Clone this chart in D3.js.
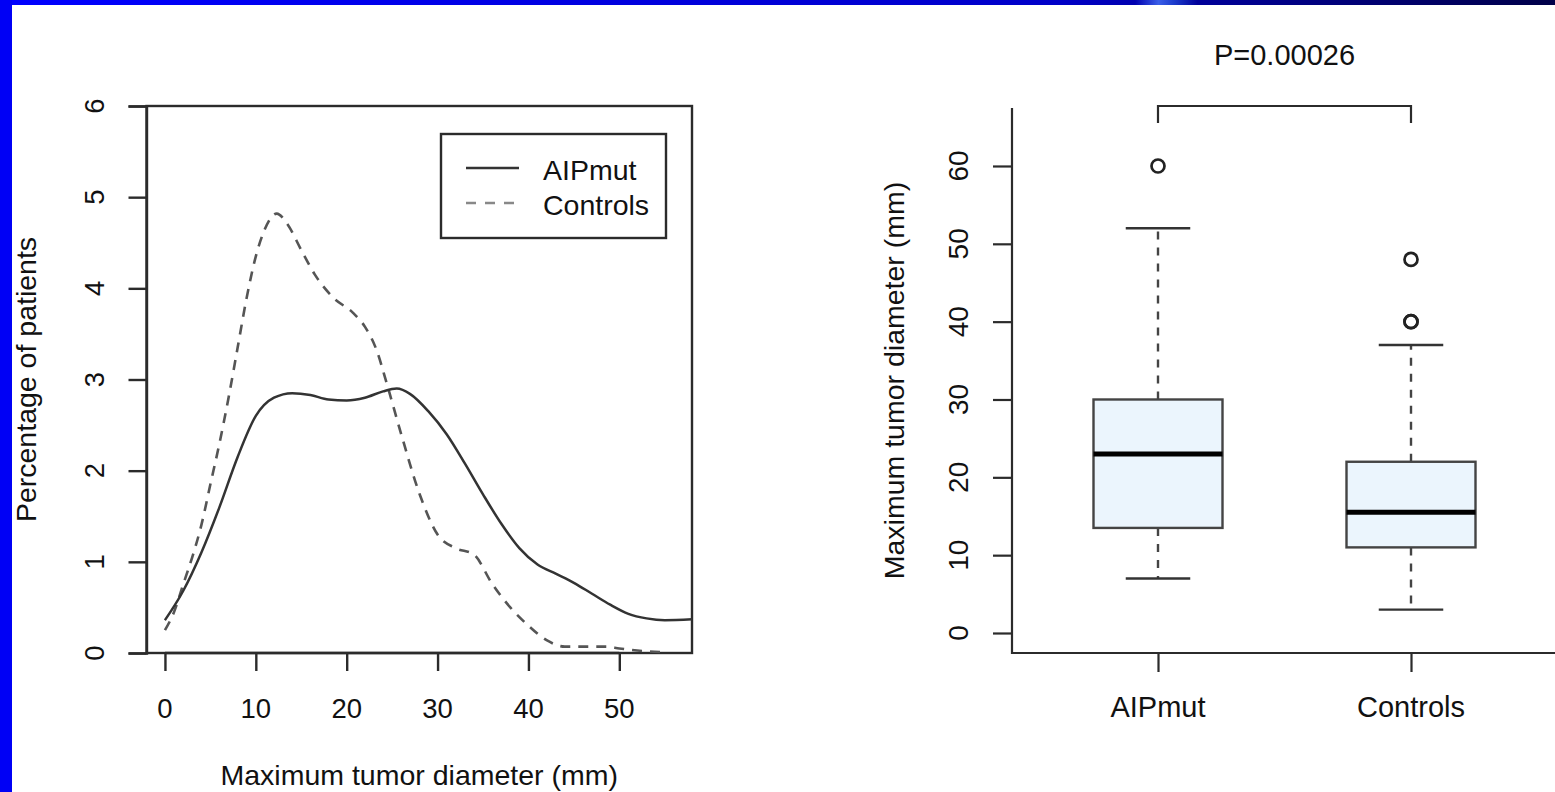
<!DOCTYPE html>
<html>
<head>
<meta charset="utf-8">
<script src="https://cdn.jsdelivr.net/npm/d3@7"></script>
<style>
  html, body { margin: 0; padding: 0; background: #fff; }
  svg { display: block; }
  text { font-family: "Liberation Sans", Arial, Helvetica, sans-serif; fill: #111; }
</style>
</head>
<body>
<svg id="chart" width="1555" height="792"></svg>
<script>
// ---------- DATA ----------
// Density curves (x = tumor diameter in mm, y = percentage of patients)
const aipX = [0,2,4,6,8,10,12,14,16,18,20,22,24,25.5,27,29,31,33,35,37,39,41,43,45,47,49,51,53,55,58];
const aipY = [0.36,0.68,1.1,1.6,2.15,2.6,2.8,2.85,2.83,2.78,2.77,2.8,2.87,2.9,2.84,2.65,2.4,2.08,1.74,1.42,1.15,0.97,0.87,0.77,0.65,0.53,0.43,0.38,0.36,0.37];
const ctrlX = [0,1,2,3,4,5,6,7,8,9,10,11,12.3,13.5,15,16.5,18.5,20.7,22,23.3,24.4,26,28,30,32,34,36,38,40,42,44,46,48.6,50,52.8,55];
const ctrlY = [0.25,0.45,0.75,1.05,1.4,1.85,2.3,2.8,3.35,3.9,4.35,4.65,4.82,4.7,4.42,4.15,3.9,3.73,3.58,3.32,2.96,2.4,1.75,1.3,1.15,1.08,0.76,0.5,0.3,0.14,0.07,0.07,0.07,0.05,0.02,0.01];
const seriesNames = ["AIPmut", "Controls"];
const leftXTicks = [0,10,20,30,40,50];
const leftYTicks = [0,1,2,3,4,5,6];

// Boxplot summaries
const boxGroups = ["AIPmut", "Controls"];
const boxLowWhisker = [7, 3];
const boxQ1 = [13.5, 11];
const boxMedian = [23, 15.5];
const boxQ3 = [30, 22];
const boxHighWhisker = [52, 37];
const boxOutliers = [[60], [40, 40, 48]];
const rightYTicks = [0,10,20,30,40,50,60];
const pValueLabel = "P=0.00026";

// ---------- DRAW ----------
const svg = d3.select("#chart");
const ink = "#2b2b2b";

// slide frame
const defs = svg.append("defs");
const grad = defs.append("linearGradient").attr("id", "topbar").attr("x1", "0").attr("x2", "1");
[["0%", "#0000ff"], ["68%", "#0000c8"], ["73%", "#0000b0"], ["74.5%", "#3a5ee8"], ["75.5%", "#1c3ccc"], ["77%", "#00009a"], ["100%", "#000048"]]
  .forEach(([o, c]) => grad.append("stop").attr("offset", o).attr("stop-color", c));
svg.append("rect").attr("x", 0).attr("y", 0).attr("width", 1555).attr("height", 792).attr("fill", "#fff");
svg.append("rect").attr("x", 0).attr("y", 0).attr("width", 1555).attr("height", 5).attr("fill", "url(#topbar)");
svg.append("rect").attr("x", 0).attr("y", 0).attr("width", 12).attr("height", 792).attr("fill", "#0000f5");

// ===== LEFT: density plot =====
const xL = d3.scaleLinear().domain([-2.03, 58]).range([146.5, 692]);
const yL = d3.scaleLinear().domain([0, 6]).range([653, 106]);
const L = svg.append("g");

// box frame
L.append("rect").attr("x", xL.range()[0]).attr("y", yL.range()[1])
  .attr("width", xL.range()[1] - xL.range()[0]).attr("height", yL.range()[0] - yL.range()[1])
  .attr("fill", "none").attr("stroke", ink).attr("stroke-width", 2.4);

// axes
const axL = d3.axisLeft(yL).tickValues(leftYTicks).tickSize(18).tickPadding(0).tickFormat(() => "");
const gyL = L.append("g").attr("transform", `translate(${xL.range()[0]},0)`).call(axL);
gyL.select(".domain").attr("stroke", ink).attr("stroke-width", 2.4);
gyL.selectAll(".tick line").attr("stroke", ink).attr("stroke-width", 2.4);
L.selectAll(".ylabL").data(leftYTicks).join("text")
  .attr("transform", d => `translate(104,${yL(d)}) rotate(-90)`)
  .attr("text-anchor", "middle").attr("font-size", 27.5).text(d => d);

const axLB = d3.axisBottom(xL).tickValues(leftXTicks).tickSize(18).tickFormat(() => "");
const gxL = L.append("g").attr("transform", `translate(0,${yL.range()[0]})`).call(axLB);
gxL.select(".domain").attr("d", `M${xL(0)},0H${xL(50)}`).attr("stroke", ink).attr("stroke-width", 2.4);
gxL.selectAll(".tick line").attr("stroke", ink).attr("stroke-width", 2.4);
L.selectAll(".xlabL").data(leftXTicks).join("text")
  .attr("x", d => xL(d)).attr("y", 718).attr("text-anchor", "middle").attr("font-size", 27.5).text(d => d);

L.append("text").attr("x", (xL.range()[0] + xL.range()[1]) / 2).attr("y", 785)
  .attr("text-anchor", "middle").attr("font-size", 28.5).text("Maximum tumor diameter (mm)");
L.append("text").attr("transform", `translate(36,${(yL.range()[0] + yL.range()[1]) / 2}) rotate(-90)`)
  .attr("text-anchor", "middle").attr("font-size", 28.5).text("Percentage of patients");

// curves
const lineGen = d3.line().x(d => xL(d[0])).y(d => yL(d[1])).curve(d3.curveMonotoneX);
L.append("path").datum(d3.zip(ctrlX, ctrlY)).attr("d", lineGen)
  .attr("fill", "none").attr("stroke", "#555").attr("stroke-width", 2.6).attr("stroke-dasharray", "10,8");
L.append("path").datum(d3.zip(aipX, aipY)).attr("d", lineGen)
  .attr("fill", "none").attr("stroke", "#333").attr("stroke-width", 2.5);

// legend
const lg = L.append("g");
lg.append("rect").attr("x", 441).attr("y", 134).attr("width", 225).attr("height", 104)
  .attr("fill", "#fff").attr("stroke", ink).attr("stroke-width", 2.4);
seriesNames.forEach((name, i) => {
  const yy = 168 + i * 35;
  lg.append("line").attr("x1", 466).attr("x2", 519).attr("y1", yy).attr("y2", yy)
    .attr("stroke", i === 0 ? "#333" : "#888").attr("stroke-width", 2.5)
    .attr("stroke-dasharray", i === 0 ? null : "10,9");
  lg.append("text").attr("x", 543).attr("y", yy + 12).attr("font-size", 28.5).text(name);
});

// ===== RIGHT: boxplot =====
const xR = d3.scalePoint().domain(boxGroups).range([1158, 1411]);
const yR = d3.scaleLinear().domain([-2.57, 67.45]).range([653, 108]);
const R = svg.append("g");
const halfW = 64.5;

// L-frame
R.append("path").attr("d", `M${1012},${yR.range()[1]}V${yR.range()[0]}H1555`)
  .attr("fill", "none").attr("stroke", ink).attr("stroke-width", 2.2);

const axR = d3.axisLeft(yR).tickValues(rightYTicks).tickSize(19).tickFormat(() => "");
const gyR = R.append("g").attr("transform", "translate(1012,0)").call(axR);
gyR.select(".domain").remove();
gyR.selectAll(".tick line").attr("stroke", ink).attr("stroke-width", 2.2);
R.selectAll(".ylabR").data(rightYTicks).join("text")
  .attr("transform", d => `translate(968,${yR(d)}) rotate(-90)`)
  .attr("text-anchor", "middle").attr("font-size", 28).text(d => d);

const axRB = d3.axisBottom(xR).tickSize(19).tickFormat(() => "");
const gxR = R.append("g").attr("transform", `translate(0,${yR.range()[0]})`).call(axRB);
gxR.select(".domain").remove();
gxR.selectAll(".tick line").attr("stroke", ink).attr("stroke-width", 2.2);
R.selectAll(".xlabR").data(boxGroups).join("text")
  .attr("x", d => xR(d)).attr("y", 717).attr("text-anchor", "middle").attr("font-size", 29).text(d => d);

R.append("text").attr("transform", `translate(904,${(yR.range()[0] + yR.range()[1]) / 2}) rotate(-90)`)
  .attr("text-anchor", "middle").attr("font-size", 28.5).text("Maximum tumor diameter (mm)");

boxGroups.forEach((g, i) => {
  const cx = xR(g);
  const gg = R.append("g");
  // whiskers
  gg.append("line").attr("x1", cx).attr("x2", cx).attr("y1", yR(boxQ3[i])).attr("y2", yR(boxHighWhisker[i]))
    .attr("stroke", "#444").attr("stroke-width", 2.4).attr("stroke-dasharray", "8,8");
  gg.append("line").attr("x1", cx).attr("x2", cx).attr("y1", yR(boxQ1[i])).attr("y2", yR(boxLowWhisker[i]))
    .attr("stroke", "#444").attr("stroke-width", 2.4).attr("stroke-dasharray", "8,8");
  [boxHighWhisker[i], boxLowWhisker[i]].forEach(v => {
    gg.append("line").attr("x1", cx - halfW / 2).attr("x2", cx + halfW / 2).attr("y1", yR(v)).attr("y2", yR(v))
      .attr("stroke", "#333").attr("stroke-width", 2.4);
  });
  // box
  gg.append("rect").attr("x", cx - halfW).attr("width", 2 * halfW)
    .attr("y", yR(boxQ3[i])).attr("height", yR(boxQ1[i]) - yR(boxQ3[i]))
    .attr("fill", "#ebf5fd").attr("stroke", "#444").attr("stroke-width", 2.4);
  gg.append("line").attr("x1", cx - halfW).attr("x2", cx + halfW).attr("y1", yR(boxMedian[i])).attr("y2", yR(boxMedian[i]))
    .attr("stroke", "#000").attr("stroke-width", 5);
  // outliers
  gg.selectAll("circle").data(boxOutliers[i]).join("circle")
    .attr("cx", cx).attr("cy", d => yR(d)).attr("r", 6.5)
    .attr("fill", "none").attr("stroke", "#222").attr("stroke-width", 2.7);
});

// significance bracket
const bTop = yR.range()[1] - 2, bLeg = bTop + 17;
const x1 = xR(boxGroups[0]), x2 = xR(boxGroups[1]);
R.append("path").attr("d", `M${x1},${bLeg}V${bTop}H${x2}V${bLeg}`)
  .attr("fill", "none").attr("stroke", ink).attr("stroke-width", 2.2);
R.append("text").attr("x", (x1 + x2) / 2).attr("y", 65).attr("text-anchor", "middle")
  .attr("font-size", 29).text(pValueLabel);
</script>
</body>
</html>
